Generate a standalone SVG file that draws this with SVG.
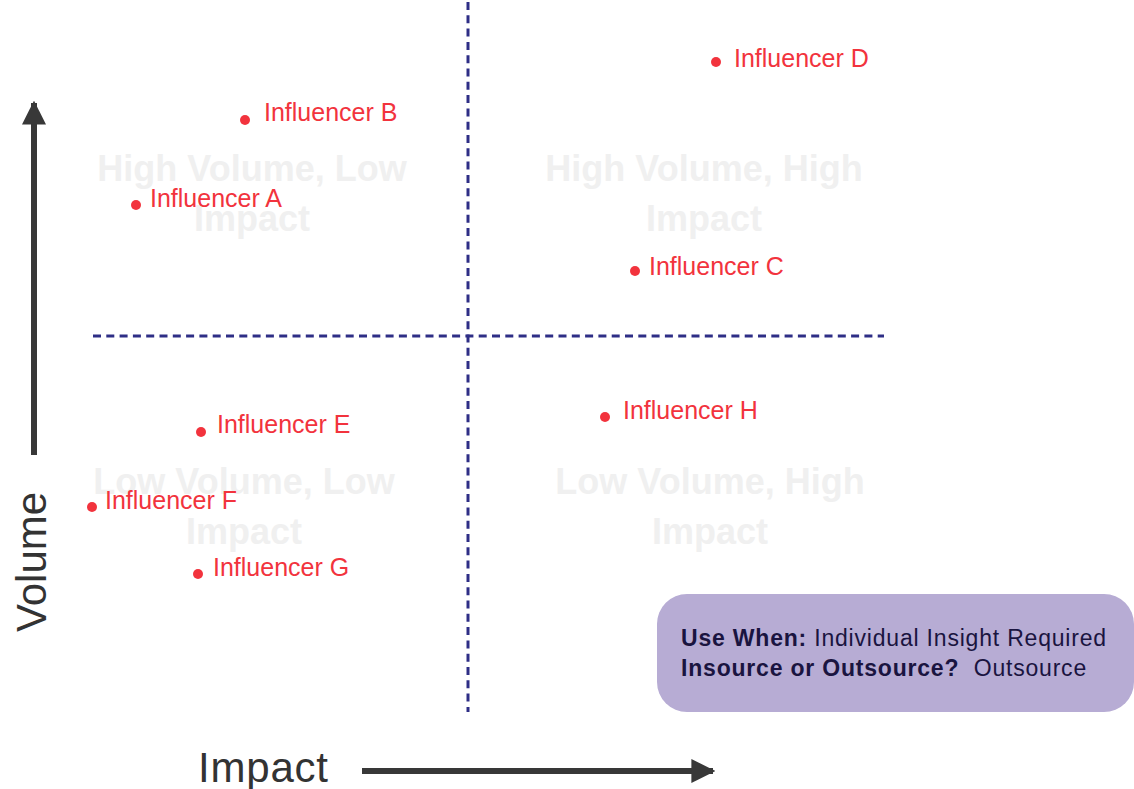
<svg xmlns="http://www.w3.org/2000/svg" width="1134" height="789" viewBox="0 0 1134 789">
  <style>
    .wm { font-family: "Liberation Sans", Arial, sans-serif; font-weight: bold; font-size: 36px; fill: #f0f0f0; text-anchor: middle; }
    .lbl { font-family: "Liberation Sans", Arial, sans-serif; font-size: 25px; fill: #f2333d; }
    .dot { fill: #f2333d; }
    .grid { stroke: #2e2e86; stroke-width: 3; stroke-dasharray: 8 5.3; fill: none; }
    .axis { stroke: #383838; stroke-width: 6; fill: none; }
    .axtxt { font-family: "Liberation Sans", Arial, sans-serif; font-size: 42px; fill: #333333; }
    .box { font-family: "Liberation Sans", Arial, sans-serif; font-size: 23px; letter-spacing: 0.8px; fill: #1a1440; }
  </style>
  <defs>
    <marker id="ah" viewBox="0 0 10 10" refX="9" refY="5" markerWidth="4" markerHeight="4" markerUnits="strokeWidth" orient="auto">
      <path d="M0,0 L10,5 L0,10 Z" fill="#383838"/>
    </marker>
  </defs>
  <rect width="1134" height="789" fill="#ffffff"/>

  <g id="quadrant-labels">
    <text class="wm" x="252" y="181">High Volume, Low</text>
    <text class="wm" x="252" y="231">Impact</text>
    <text class="wm" x="704" y="181">High Volume, High</text>
    <text class="wm" x="704" y="231">Impact</text>
    <text class="wm" x="244" y="494">Low Volume, Low</text>
    <text class="wm" x="244" y="544">Impact</text>
    <text class="wm" x="710" y="494">Low Volume, High</text>
    <text class="wm" x="710" y="544">Impact</text>
  </g>

  <g id="connectors">
    <line class="grid" x1="468" y1="2" x2="468" y2="712"/>
    <line class="grid" x1="93" y1="336" x2="884" y2="336"/>
    <line class="axis" x1="34" y1="455" x2="34" y2="103" marker-end="url(#ah)"/>
    <line class="axis" x1="362" y1="771" x2="713" y2="771" marker-end="url(#ah)"/>
  </g>

  <g id="axis-volume">
    <text class="axtxt" transform="translate(46,632) rotate(-90)">Volume</text>
  </g>
  <g id="axis-impact">
    <text class="axtxt" x="198" y="782" textLength="130">Impact</text>
  </g>

  <g id="influencer-a"><circle class="dot" cx="136" cy="205" r="5"/><text class="lbl" x="150" y="207">Influencer A</text></g>
  <g id="influencer-b"><circle class="dot" cx="245" cy="120" r="5"/><text class="lbl" x="264" y="121">Influencer B</text></g>
  <g id="influencer-c"><circle class="dot" cx="635" cy="271" r="5"/><text class="lbl" x="649" y="275">Influencer C</text></g>
  <g id="influencer-d"><circle class="dot" cx="716" cy="62" r="5"/><text class="lbl" x="734" y="67">Influencer D</text></g>
  <g id="influencer-e"><circle class="dot" cx="201" cy="432" r="5"/><text class="lbl" x="217" y="433">Influencer E</text></g>
  <g id="influencer-f"><circle class="dot" cx="92" cy="507" r="5"/><text class="lbl" x="105" y="509">Influencer F</text></g>
  <g id="influencer-g"><circle class="dot" cx="198" cy="574" r="5"/><text class="lbl" x="213" y="576">Influencer G</text></g>
  <g id="influencer-h"><circle class="dot" cx="605" cy="417" r="5"/><text class="lbl" x="623" y="419">Influencer H</text></g>

  <g id="info-box">
    <rect x="657" y="594" width="477" height="118" rx="30" ry="30" fill="#b7acd4"/>
    <text class="box" x="681" y="646"><tspan font-weight="bold">Use When:</tspan> Individual Insight Required</text>
    <text class="box" x="681" y="676" xml:space="preserve"><tspan font-weight="bold">Insource or Outsource?</tspan>  Outsource</text>
  </g>
</svg>
